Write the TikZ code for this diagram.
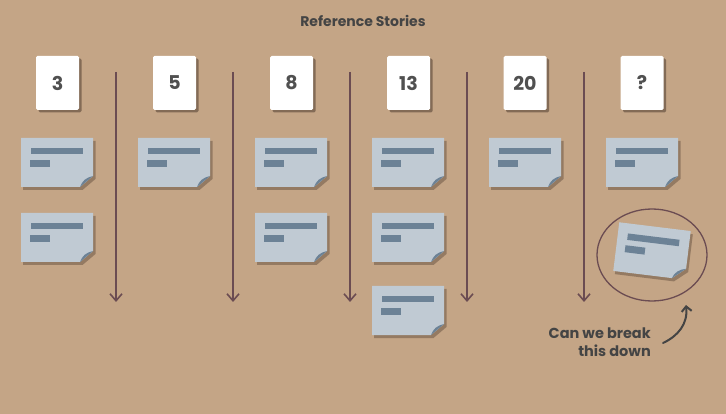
\documentclass[tikz,border=0pt]{standalone}
\usepackage{fontspec}
\setmainfont{Poppins}
\usetikzlibrary{arrows.meta,shadows,shapes.geometric}
\definecolor{bg}{HTML}{C4A586}
\definecolor{shadowc}{HTML}{6E5846}
\definecolor{notec}{HTML}{C0CAD3}
\definecolor{barc}{HTML}{6C8296}
\definecolor{arrowc}{HTML}{6B4C52}
\definecolor{txtc}{HTML}{444444}
\definecolor{numc}{HTML}{505050}
\tikzset{
  numcard/.style={fill=white, rounded corners=1.5pt, minimum width=43pt, minimum height=54pt, inner sep=0pt,
    text=numc, font=\bfseries\fontsize{19}{19}\selectfont,
    drop shadow={shadow xshift=2.5pt, shadow yshift=-2.5pt, fill=shadowc, opacity=.75}},
  flow/.style={draw=arrowc, line width=1.6pt, -{Straight Barb[length=7pt,width=12pt]}},
}
\newcommand\sticky[3]{%
  \begin{scope}[shift={(#2,#3)}]
    \fill[shadowc, opacity=.55] (2,3) -- (74.5,3) -- (74.5,41) -- (61.5,52) -- (2,52) -- cycle;
    \fill[notec] (0,0) -- (72,0) -- (72,38) -- (59,49) -- (0,49) -- cycle;
    \fill[barc] (10,10) rectangle (62,16.5);
    \fill[barc] (9,22) rectangle (29,29);
    \fill[barc] (72,38) .. controls (65,39.5) and (61,43) .. (59,49) -- cycle;
    \node[minimum width=72pt, minimum height=49pt, inner sep=0pt] (#1) at (36,24.5) {};
  \end{scope}}
\begin{document}
\begin{tikzpicture}[x=1pt,y=-1pt]
\fill[bg] (0,0) rectangle (726,414);
\useasboundingbox (0,0) rectangle (726,414);

\node[text=txtc, font=\bfseries\fontsize{14}{14}\selectfont] (title) at (363,21) {Reference Stories};

\node[numcard] (c3) at (57.5,83) {3};
\node[numcard] (c5) at (174.5,83) {5};
\node[numcard] (c8) at (291.5,83) {8};
\node[numcard] (c13) at (408.5,83) {13};
\node[numcard] (c20) at (525,83) {20};
\node[numcard] (cq) at (642,83) {?};

\foreach \i/\x in {1/116,2/233,3/350,4/467,5/584}{
  \coordinate (t\i) at (\x,72);
  \coordinate (b\i) at (\x,302);
  \draw[flow] (t\i) -- (b\i);
}

\sticky{n31}{21}{138}
\sticky{n32}{21}{213}
\sticky{n51}{138}{138}
\sticky{n81}{255}{138}
\sticky{n82}{255}{213}
\sticky{n131}{372}{138}
\sticky{n132}{372}{213}
\sticky{n133}{372}{286}
\sticky{n201}{489}{138}
\sticky{nq1}{606}{138}

\begin{scope}[shift={(652,251)}, rotate=-7]
  \sticky{nq2}{-36}{-24.5}
\end{scope}

\node[draw=arrowc, line width=1.3pt, ellipse, minimum width=110pt, minimum height=92pt] (circ) at (652,255) {};

\node[align=right, anchor=north east, text=txtc, font=\bfseries\fontsize{14.5}{18}\selectfont, inner sep=0pt] (q) at (651,328) {Can we break\\this down};

\coordinate (qa) at (663,343);
\coordinate (qb) at (686,305);
\draw[draw=txtc, line width=2pt, line cap=round, -{Straight Barb[length=5pt,width=10pt]}] (qa) .. controls (678,336) and (688,324) .. (qb);
\end{tikzpicture}
\end{document}
